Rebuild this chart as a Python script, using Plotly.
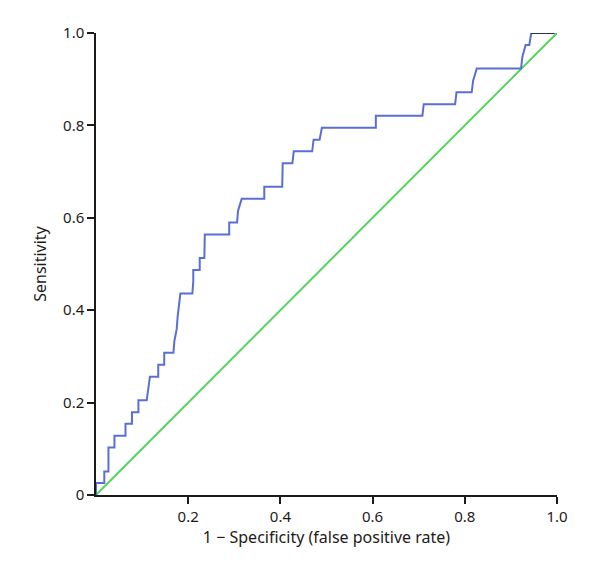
import plotly.graph_objects as go

# ROC curve points (1 - specificity, sensitivity)
fpr = [0.0, 0.0, 0.018, 0.018, 0.027, 0.027, 0.040, 0.040, 0.064, 0.064, 0.078, 0.078,
       0.092, 0.092, 0.110, 0.114, 0.117, 0.135, 0.135, 0.148, 0.148, 0.168, 0.170, 0.175,
       0.177, 0.183, 0.209, 0.211, 0.211, 0.225, 0.225, 0.235, 0.236, 0.289, 0.289, 0.306,
       0.308, 0.316, 0.365, 0.365, 0.404, 0.405, 0.426, 0.429, 0.469, 0.472, 0.485, 0.490,
       0.607, 0.607, 0.708, 0.711, 0.779, 0.782, 0.815, 0.818, 0.826, 0.922, 0.925, 0.932,
       0.940, 0.944]
tpr = [0.0, 0.026, 0.026, 0.051, 0.051, 0.103, 0.103, 0.128, 0.128, 0.154, 0.154, 0.179,
       0.179, 0.205, 0.205, 0.231, 0.256, 0.256, 0.282, 0.282, 0.308, 0.308, 0.333, 0.359,
       0.385, 0.436, 0.436, 0.462, 0.487, 0.487, 0.513, 0.513, 0.564, 0.564, 0.590, 0.590,
       0.615, 0.641, 0.641, 0.667, 0.667, 0.718, 0.718, 0.744, 0.744, 0.769, 0.769, 0.795,
       0.795, 0.821, 0.821, 0.846, 0.846, 0.872, 0.872, 0.897, 0.923, 0.923, 0.949, 0.974,
       0.974, 1.0]

# final segment at top
top_x = [0.944, 0.995]
top_y = [1.0, 1.0]

# chance diagonal
diag_x = [0.0, 1.0]
diag_y = [0.0, 1.0]

x_ticks = [0.2, 0.4, 0.6, 0.8, 1.0]
x_ticklabels = ["0.2", "0.4", "0.6", "0.8", "1.0"]
y_ticks = [0.0, 0.2, 0.4, 0.6, 0.8, 1.0]
y_ticklabels = ["0", "0.2", "0.4", "0.6", "0.8", "1.0"]

fig = go.Figure()
fig.add_trace(go.Scatter(x=diag_x, y=diag_y, mode="lines",
                         line=dict(color="#52d45e", width=2), hoverinfo="skip"))
fig.add_trace(go.Scatter(x=fpr, y=tpr, mode="lines",
                         line=dict(color="#5a6fd4", width=2)))
fig.add_trace(go.Scatter(x=top_x, y=top_y, mode="lines",
                         line=dict(color="#2b3050", width=2)))

font_family = "Source Sans Pro, Noto Sans, sans-serif"
fig.update_layout(
    width=603, height=559,
    margin=dict(l=88, r=54, t=25, b=72, autoexpand=False),
    paper_bgcolor="white", plot_bgcolor="white",
    showlegend=False,
    font=dict(family=font_family, size=15, color="#1e1a1a"),
)
fig.update_xaxes(
    range=[0, 1], tickvals=x_ticks, ticktext=x_ticklabels,
    showgrid=False, zeroline=False, showline=True, linecolor="#1e1a1a", linewidth=1.5,
    ticks="outside", ticklen=7, tickcolor="#1e1a1a", tickwidth=1.5,
    title=dict(text="1 − Specificity (false positive rate)", standoff=4,
               font=dict(size=16)),
    tickfont=dict(size=15), automargin=False,
)
fig.update_yaxes(
    range=[0, 1], tickvals=y_ticks, ticktext=y_ticklabels,
    showgrid=False, zeroline=False, showline=True, linecolor="#1e1a1a", linewidth=1.5,
    ticks="outside", ticklen=7, tickcolor="#1e1a1a", tickwidth=1.5,
    title=dict(text="Sensitivity", standoff=12, font=dict(size=16)),
    tickfont=dict(size=15), automargin=False,
)

fig.write_html("out.html")
